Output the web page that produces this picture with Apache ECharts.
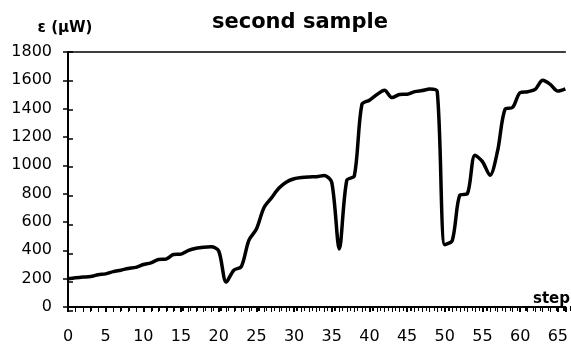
<!DOCTYPE html>
<html>
<head>
<meta charset="utf-8">
<script src="https://cdn.jsdelivr.net/npm/echarts@6/dist/echarts.min.js"></script>
<style>html,body{margin:0;padding:0;background:#fff;}#c{width:571px;height:345px;}</style>
</head>
<body>
<div id="c"></div>
<script>
var steps = [];
for (var i = 0; i <= 66; i++) steps.push(i);
var power = [200,206,211,215,228,234,250,260,272,280,
             300,312,335,338,370,373,400,415,422,425,
             395,176,260,285,470,550,700,770,840,883,
             905,914,918,920,928,880,410,895,925,1430,
             1460,1500,1530,1478,1500,1502,1520,1528,1538,1520,
             440,470,790,800,1072,1026,930,1100,1397,1409,
             1513,1520,1536,1600,1571,1524,1540];
var yTicks = [0,200,400,600,800,1000,1200,1400,1600,1800];
var titleText = 'second sample';
var yName = 'ε (μW)';
var xName = 'step';

var FONT = 'DejaVu Sans';
var chart = echarts.init(document.getElementById('c'));
var pts = steps.map(function(s, k){ return [s, power[k]]; });
var gridBox = {left: 68, right: 0, top: 52, bottom: 34, containLabel: false};

function xTickAxis(gridIndex, inside, withLine, withLabel) {
  return {
    type: 'value', gridIndex: gridIndex, position: 'bottom', min: 0, max: 66, interval: 5,
    axisLine: {show: withLine, lineStyle: {color: '#000', width: 2}},
    axisTick: {show: true, interval: 0, inside: inside, length: 5, lineStyle: {color: '#000', width: 2}},
    minorTick: {show: true, splitNumber: 5, length: 5, lineStyle: {color: '#000', width: 1}},
    splitLine: {show: false},
    axisLabel: {show: withLabel, color: '#000', fontFamily: FONT, fontSize: 16, margin: 22,
      formatter: function(v){ return v % 5 === 0 ? String(v) : ''; }}
  };
}
function yTickAxis(gridIndex, inside, withLine, withLabel) {
  return {
    type: 'value', gridIndex: gridIndex, position: 'left', min: 0, max: 1800, interval: 200,
    axisLine: {show: withLine, lineStyle: {color: '#000', width: 2}},
    axisTick: {show: true, interval: 0, inside: inside, length: 5, lineStyle: {color: '#000', width: 1.5}},
    splitLine: {show: false},
    axisLabel: {show: withLabel, color: '#000', fontFamily: FONT, fontSize: 16, margin: 16,
      formatter: function(v){ return yTicks.indexOf(v) >= 0 ? String(v) : ''; }}
  };
}

var yMain = yTickAxis(0, false, true, true);
yMain.name = yName;
yMain.nameLocation = 'end';
yMain.nameGap = 16;
yMain.nameTextStyle = {color: '#000', fontFamily: FONT, fontSize: 15, fontWeight: 'bold', align: 'center', padding: [0, 6, 0, 0]};

chart.setOption({
  animation: false,
  backgroundColor: '#fff',
  title: {
    text: titleText, left: 207, top: 7,
    textStyle: {color: '#000', fontFamily: FONT, fontSize: 21, fontWeight: 'bold'}
  },
  grid: [gridBox, Object.assign({}, gridBox)],
  xAxis: [
    xTickAxis(0, false, true, true),
    {type: 'value', gridIndex: 0, position: 'top', min: 0, max: 66,
     axisLine: {show: true, lineStyle: {color: '#000', width: 1.5}},
     axisTick: {show: false}, axisLabel: {show: false}, splitLine: {show: false}},
    xTickAxis(1, true, false, false)
  ],
  yAxis: [yMain, yTickAxis(1, true, false, false)],
  graphic: [{
    type: 'text', right: 1, top: 292,
    style: {text: xName, fill: '#000', font: 'bold 15px "DejaVu Sans"'}
  }],
  series: [{
    type: 'line', data: pts, xAxisIndex: 0, yAxisIndex: 0,
    smooth: 0.3, showSymbol: false,
    lineStyle: {color: '#000', width: 3.5}
  }, {
    type: 'line', data: [], xAxisIndex: 2, yAxisIndex: 1, showSymbol: false
  }]
});
</script>
</body>
</html>
